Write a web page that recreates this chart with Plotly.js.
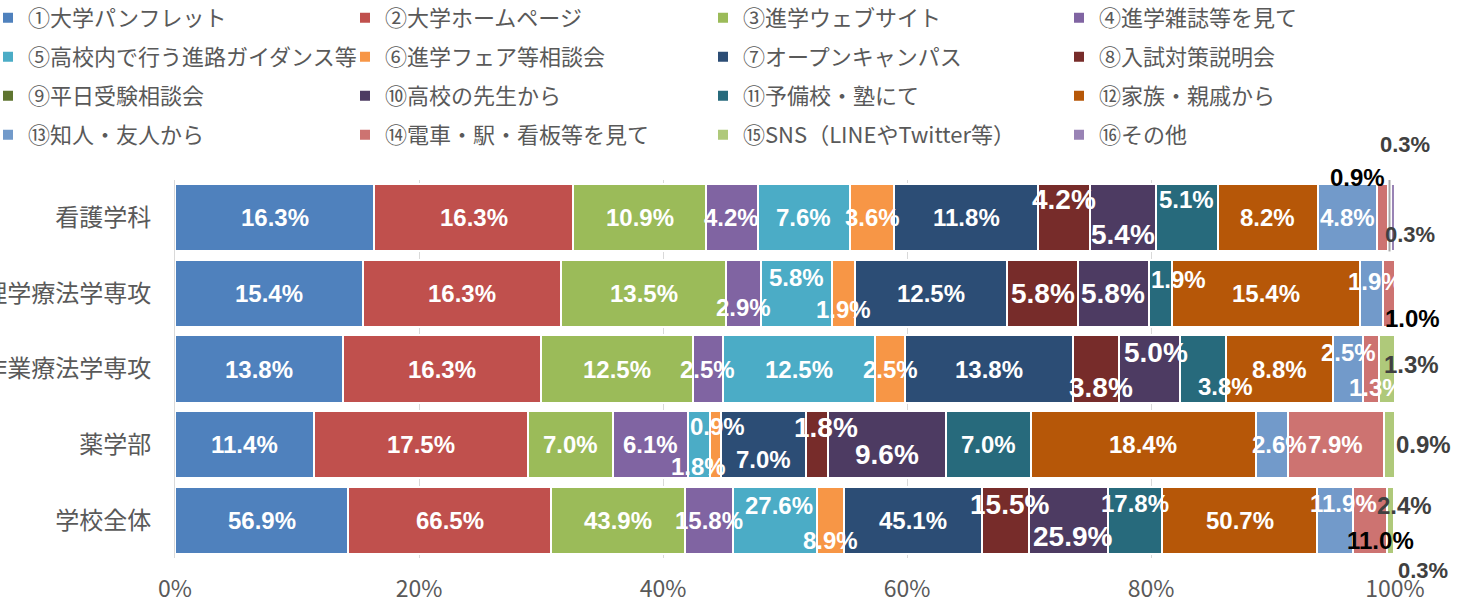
<!DOCTYPE html>
<html><head><meta charset="utf-8">
<script src="https://cdn.plot.ly/plotly-3.0.1.min.js"></script>
<style>html,body{margin:0;padding:0;background:#fff;}#chart{width:1466px;height:606px;}</style>
</head><body><div id="chart"></div>
<script>
// ---- data ----
const categories = ['看護学科', '理学療法学専攻', '作業療法学専攻', '薬学部', '学校全体'];
const seriesNames = ['①大学パンフレット', '②大学ホームページ', '③進学ウェブサイト', '④進学雑誌等を見て',
  '⑤高校内で行う進路ガイダンス等', '⑥進学フェア等相談会', '⑦オープンキャンパス', '⑧入試対策説明会',
  '⑨平日受験相談会', '⑩高校の先生から', '⑪予備校・塾にて', '⑫家族・親戚から',
  '⑬知人・友人から', '⑭電車・駅・看板等を見て', '⑮SNS（LINEやTwitter等）', '⑯その他'];
const s01 = [16.3, 15.4, 13.8, 11.4, 56.9];
const s02 = [16.3, 16.3, 16.3, 17.5, 66.5];
const s03 = [10.9, 13.5, 12.5, 7.0, 43.9];
const s04 = [4.2, 2.9, 2.5, 6.1, 15.8];
const s05 = [7.6, 5.8, 12.5, 1.8, 27.6];
const s06 = [3.6, 1.9, 2.5, 0.9, 8.9];
const s07 = [11.8, 12.5, 13.8, 7.0, 45.1];
const s08 = [4.2, 5.8, 3.8, 1.8, 15.5];
const s09 = [0, 0, 0, 0, 0];
const s10 = [5.4, 5.8, 5.0, 9.6, 25.9];
const s11 = [5.1, 1.9, 3.8, 7.0, 17.8];
const s12 = [8.2, 15.4, 8.8, 18.4, 50.7];
const s13 = [4.8, 1.9, 2.5, 2.6, 11.9];
const s14 = [0.9, 1.0, 1.3, 7.9, 11.0];
const s15 = [0.3, 0, 1.3, 0.9, 2.4];
const s16 = [0.3, 0, 0, 0, 0.3];
const xTickVals = [0, 20, 40, 60, 80, 100];
const xTickText = ['0%', '20%', '40%', '60%', '80%', '100%'];

// ---- styles ----
const series = [s01, s02, s03, s04, s05, s06, s07, s08, s09, s10, s11, s12, s13, s14, s15, s16];
const colors = ['#4F81BD', '#C0504D', '#9BBB59', '#8064A2', '#4BACC6', '#F79646', '#2C4D75', '#772C2A',
  '#5F7530', '#4D3B62', '#276A7C', '#B65708', '#729ACA', '#CD7371', '#AFC97A', '#9983B5'];
const BIG = 28, NORM = 24, OUT = 24;
// label tweaks: "row,series" -> {dx, dy, color, size}
const tweak = {
  '0,7': {dy: -18, size: BIG}, '0,9': {dy: 17, size: BIG}, '0,10': {dy: -18},
  '0,13': {dx: -25, dy: -40, color: '#000000', size: OUT},
  '0,14': {dx: 15, dy: -73, color: '#404040', size: 22},
  '0,15': {dx: 17, dy: 17, color: '#404040', size: 22},
  '1,3': {dy: 14}, '1,4': {dy: -16}, '1,5': {dy: 16}, '1,7': {size: BIG}, '1,9': {size: BIG},
  '1,10': {dx: 18, dy: -14}, '1,12': {dx: 4, dy: -12},
  '1,13': {dx: 24, dy: 25, color: '#000000', size: OUT},
  '2,7': {dx: 5, dy: 18, size: BIG}, '2,9': {dx: 6, dy: -17, size: BIG}, '2,10': {dx: 22, dy: 17},
  '2,12': {dy: -17}, '2,13': {dx: 5, dy: 18}, '2,14': {dx: 24, dy: -5, color: '#404040', size: OUT},
  '3,4': {dy: 22}, '3,5': {dx: 2, dy: -18}, '3,6': {dy: 15}, '3,7': {dx: 9, dy: -17, size: BIG},
  '3,9': {dy: 10, size: BIG}, '3,12': {dx: 8}, '3,14': {dx: 34, color: '#404040', size: OUT},
  '4,4': {dx: 4, dy: -15}, '4,5': {dy: 20}, '4,7': {dx: 4, dy: -16, size: BIG}, '4,9': {dx: 4, dy: 16, size: BIG},
  '4,10': {dy: -17}, '4,12': {dx: 8, dy: -17}, '4,13': {dx: 10, dy: 20, color: '#000000', size: OUT},
  '4,14': {dx: 14, dy: -15, color: '#404040', size: OUT}, '4,15': {dx: 28, dy: 50, color: '#404040', size: 22}
};
const labelFont = 'Liberation Sans, Arial, sans-serif';
const cjkFont = 'Noto Sans CJK JP, sans-serif';
const legendRowY = [18, 57, 96, 135];
const legendTextX = [26, 385, 743, 1099];
const legendIndent = -12;

const traces = series.map((vals, s) => ({
  type: 'bar', orientation: 'h', name: seriesNames[s], y: categories, x: vals,
  marker: {color: colors[s], line: {color: '#FFFFFF', width: 2}},
  legend: s === 0 ? 'legend' : 'legend' + (s + 1),
  hoverinfo: 'skip'
}));

// annotations from data
const annotations = [];
const totals = categories.map((c, r) => series.reduce((a, sv) => a + sv[r], 0));
categories.forEach((cat, r) => {
  let cum = 0;
  series.forEach((sv, s) => {
    const v = sv[r];
    if (v > 0) {
      const t = tweak[r + ',' + s] || {};
      annotations.push({
        x: (cum + v / 2) / totals[r] * 100, y: cat, xref: 'x', yref: 'y',
        text: v.toFixed(1) + '%', showarrow: false,
        xshift: t.dx || 0, yshift: -(t.dy || 0),
        font: {family: labelFont, size: t.size || NORM, color: t.color || '#FFFFFF', weight: 'bold'}
      });
    }
    cum += v;
  });
});

// leader line for the small label above the first row
const r0cum = series.slice(0, 14).reduce((a, sv) => a + sv[0], 0);
const leaderX = (r0cum + s15[0] / 2) / totals[0] * 100;
const shapes = [{
  type: 'line', xref: 'x', yref: 'y',
  x0: leaderX, x1: leaderX, y0: -0.78, y1: 0.445, line: {color: '#A6A6A6', width: 2}
}];

const layout = {
  width: 1466, height: 606,
  margin: {l: 175, r: 71, t: 180, b: 48},
  paper_bgcolor: '#FFFFFF', plot_bgcolor: '#FFFFFF',
  barmode: 'stack', barnorm: 'percent', bargap: 0.11,
  xaxis: {
    range: [0, 100], tickvals: xTickVals, ticktext: xTickText,
    showgrid: true, gridcolor: '#D9D9D9', gridwidth: 1, zeroline: false, showline: false,
    tickfont: {family: cjkFont, size: 23, color: '#595959'}, ticklabelstandoff: 15, fixedrange: true
  },
  yaxis: {
    range: [categories.length - 0.5, -0.5], autorange: false, showline: true, linecolor: '#D9D9D9', linewidth: 1,
    tickfont: {family: cjkFont, size: 24, color: '#595959'}, ticklabelstandoff: 18, fixedrange: true
  },
  annotations: annotations, shapes: shapes,
  showlegend: true
};
series.forEach((sv, s) => {
  const key = s === 0 ? 'legend' : 'legend' + (s + 1);
  const row = Math.floor(s / 4), col = s % 4;
  layout[key] = {
    xref: 'container', yref: 'container', xanchor: 'left', yanchor: 'middle',
    x: Math.max(0, legendTextX[col] - 40 - legendIndent) / 1466, y: 1 - legendRowY[row] / 606,
    orientation: 'h', itemwidth: 30, indentation: legendIndent, bgcolor: 'rgba(0,0,0,0)',
    font: {family: cjkFont, size: 22, color: '#595959'}
  };
});

Plotly.newPlot('chart', traces, layout, {displayModeBar: false, staticPlot: true});
</script>
</body></html>
